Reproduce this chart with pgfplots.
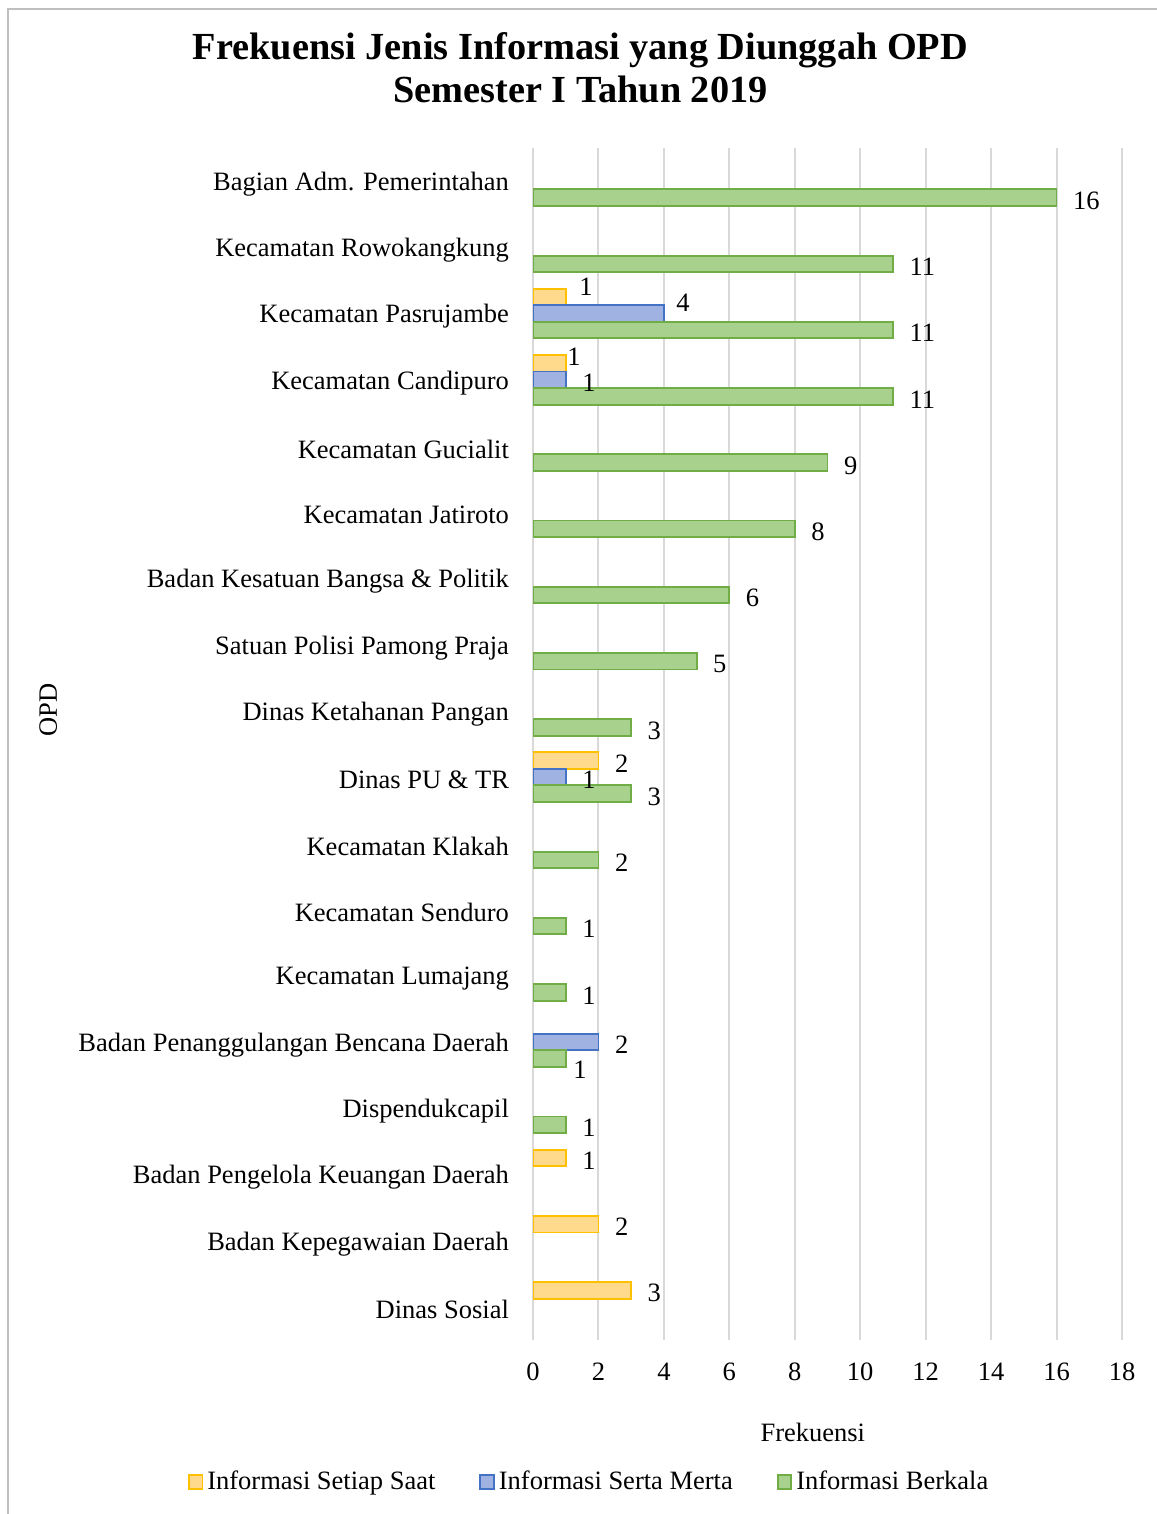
\documentclass[border=0pt]{standalone}
\usepackage{pgfplots}
\pgfplotsset{compat=1.18}
\usepackage{fontspec}
\setmainfont{Liberation Serif}
\definecolor{yfill}{RGB}{255,217,140}
\definecolor{yedge}{RGB}{255,192,0}
\definecolor{bfill}{RGB}{160,178,226}
\definecolor{bedge}{RGB}{68,114,196}
\definecolor{gfill}{RGB}{169,209,142}
\definecolor{gedge}{RGB}{112,173,71}
\definecolor{gridc}{RGB}{217,217,217}
\definecolor{borderc}{RGB}{191,191,191}
\newcommand{\lbl}{\fontsize{13.25}{15}\selectfont}
\pgfplotsset{
  legsq/.style={legend image code/.code={\draw[##1,line width=0.9pt] (0pt,-3.4pt) rectangle (6.8pt,3.4pt);}},
  shifted labels/.style={
    visualization depends on={\thisrow{dx} \as \dx},
    visualization depends on={\thisrow{dy} \as \dy},
    nodes near coords style={xshift=\dx pt, yshift=\dy pt}},
}
\begin{document}
\begin{tikzpicture}
\useasboundingbox (0,0) rectangle (578pt,757pt);
\draw[borderc, line width=1pt] (4pt,-20pt) -- (4pt,752.5pt) -- (600pt,752.5pt);
\begin{axis}[
  at={(266.5pt,87pt)}, anchor=south west,
  scale only axis, width=294.5pt, height=596pt,
  xbar, bar width=0.25,
  xmin=0, xmax=18, xtick={0,2,...,18},
  ymin=-0.5, ymax=17.5, y dir=reverse,
  ytick={0,...,17},
  yticklabels={Bagian Adm. Pemerintahan, Kecamatan Rowokangkung, Kecamatan Pasrujambe, Kecamatan Candipuro, Kecamatan Gucialit, Kecamatan Jatiroto, Badan Kesatuan Bangsa \& Politik, Satuan Polisi Pamong Praja, Dinas Ketahanan Pangan, Dinas PU \& TR, Kecamatan Klakah, Kecamatan Senduro, Kecamatan Lumajang, Badan Penanggulangan Bencana Daerah, Dispendukcapil, Badan Pengelola Keuangan Daerah, Badan Kepegawaian Daerah, Dinas Sosial},
  axis line style={draw=none},
  major tick length=0pt,
  xmajorgrids, grid style={draw=gridc, line width=1pt},
  /pgf/number format/assume math mode=true,
  ticklabel style={font=\lbl},
  xticklabel style={yshift=-8pt},
  yticklabel style={xshift=-8.5pt, yshift=-1.5pt},
  nodes near coords,
  nodes near coords style={font=\lbl, anchor=west, xshift=4.5pt, yshift=-1.5pt},
  title={Frekuensi Jenis Informasi yang Diunggah OPD\\Semester I Tahun 2019},
  title style={at={(axis description cs:0.0806,1.057)}, anchor=center, align=center, font=\bfseries\fontsize{19.15}{21.5}\selectfont},
  xlabel={Frekuensi},
  xlabel style={at={(axis description cs:0.475,-0.0772)}, anchor=center, font=\lbl},
  ylabel={OPD},
  ylabel style={at={(axis description cs:-0.823,0.5285)}, anchor=center, rotate=0, font=\lbl},
  legend style={at={(axis description cs:0.097,-0.119)}, anchor=center, legend columns=3, draw=none, font=\lbl,
    /tikz/every even column/.append style={column sep=20pt}},
]
\addplot[legsq, draw=yedge, fill=yfill, line width=0.9pt, bar shift=-0.25, shifted labels] table[x=v, y=c] {
v c dx dy
1 2 -1.5 6.5
1 3 -7.5 4.5
2 9 0 0
1 15 0 0
2 16 0 0
3 17 0 0
};
\addlegendentry{Informasi Setiap Saat}
\addplot[legsq, draw=bedge, fill=bfill, line width=0.9pt, bar shift=0, shifted labels] table[x=v, y=c] {
v c dx dy
4 2 -2 7
1 3 0 0
1 9 0 0
2 13 0 0
};
\addlegendentry{Informasi Serta Merta}
\addplot[legsq, draw=gedge, fill=gfill, line width=0.9pt, bar shift=0.25, shifted labels] table[x=v, y=c] {
v c dx dy
16 0 0 0
11 1 0 0
11 2 0 0
11 3 0 0
9 4 0 0
8 5 0 0
6 6 0 0
5 7 0 0
3 8 0 0
3 9 0 0
2 10 0 0
1 11 0 0
1 12 0 0
1 13 -4.5 -4
1 14 0 0
};
\addlegendentry{Informasi Berkala}
\end{axis}
\end{tikzpicture}
\end{document}
